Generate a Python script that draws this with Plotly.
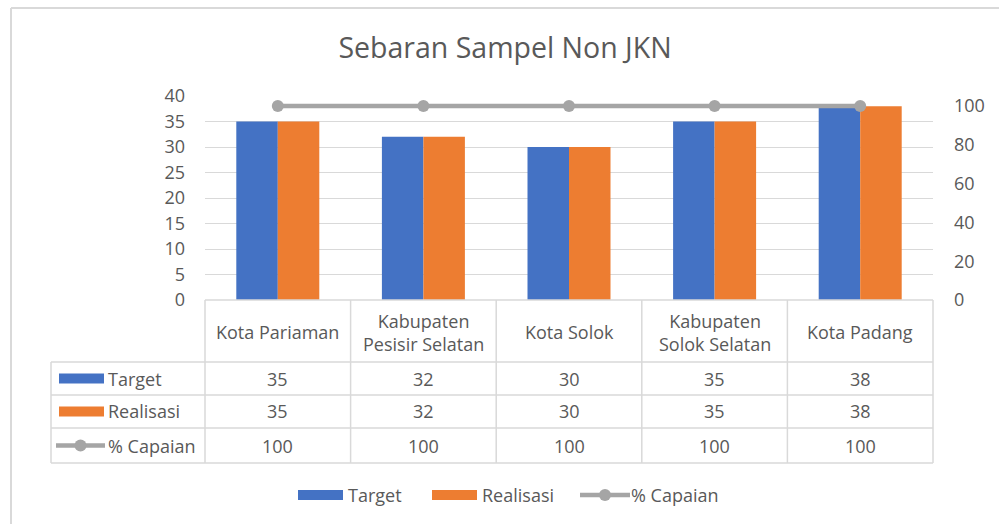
import plotly.graph_objects as go

categories = ["Kota Pariaman", "Kabupaten<br>Pesisir Selatan", "Kota Solok", "Kabupaten<br>Solok Selatan", "Kota Padang"]
target = [35, 32, 30, 35, 38]
realisasi = [35, 32, 30, 35, 38]
capaian = [100, 100, 100, 100, 100]
series_names = ["Target", "Realisasi", "% Capaian"]
colors = ["#4472C4", "#ED7D31", "#A5A5A5"]
left_ticks = [0, 5, 10, 15, 20, 25, 30, 35, 40]
right_ticks = [0, 20, 40, 60, 80, 100]

W, H = 999, 524
L, R, T, B = 205, 933, 96, 300
FONT = "Open Sans"
FS = 18
TXT = "#595959"
GRID = "#d9d9d9"

def px(x):
    return (x - L) / (R - L)

def py(y):
    return (B - y) / (B - T)

n = len(categories)
idx = list(range(n))

fig = go.Figure()
fig.add_trace(go.Bar(x=idx, y=target, name=series_names[0], marker_color=colors[0], marker_line_width=0))
fig.add_trace(go.Bar(x=idx, y=realisasi, name=series_names[1], marker_color=colors[1], marker_line_width=0))
fig.add_trace(go.Scatter(x=idx, y=capaian, name=series_names[2], yaxis="y2", mode="lines+markers",
                         line=dict(color=colors[2], width=4.5), marker=dict(size=12, color=colors[2])))

shapes = []
annotations = []
lc = dict(color=GRID, width=1.5)

def txt(x, y, text, xanchor="center"):
    annotations.append(dict(x=x, y=y, xref="paper", yref="paper", text=text, showarrow=False,
                            xanchor=xanchor, yanchor="middle", align="center",
                            font=dict(family=FONT, size=FS, color=TXT)))

# table rows (pixel y boundaries)
row_bounds = [300, 362, 395, 428, 463]
tbl_left = 51
shapes.append(dict(type="line", xref="paper", yref="paper", x0=0, x1=1, y0=py(300), y1=py(300), line=lc))
for yb in row_bounds[1:]:
    shapes.append(dict(type="line", xref="paper", yref="paper", x0=px(tbl_left), x1=1, y0=py(yb), y1=py(yb), line=lc))
for i in range(n + 1):
    shapes.append(dict(type="line", xref="paper", yref="paper", x0=i / n, x1=i / n, y0=py(300), y1=py(463), line=lc))
shapes.append(dict(type="line", xref="paper", yref="paper", x0=px(tbl_left), x1=px(tbl_left), y0=py(362), y1=py(463), line=lc))

for i, c in enumerate(categories):
    txt((i + 0.5) / n, py(332), c)

rows = [target, realisasi, capaian]
row_centers = [378.5, 411.5, 445.5]
for r, (vals, yc) in enumerate(zip(rows, row_centers)):
    for i, v in enumerate(vals):
        txt((i + 0.5) / n, py(yc), str(v))
    if r < 2:
        shapes.append(dict(type="rect", xref="paper", yref="paper", x0=px(59), x1=px(104), y0=py(yc - 5), y1=py(yc + 5),
                           fillcolor=colors[r], line=dict(width=0)))
    else:
        shapes.append(dict(type="line", xref="paper", yref="paper", x0=px(56), x1=px(105), y0=py(yc), y1=py(yc),
                           line=dict(color=colors[2], width=4.5)))
        shapes.append(dict(type="circle", xref="paper", yref="paper", x0=px(74.5), x1=px(86.5), y0=py(yc - 6), y1=py(yc + 6),
                           fillcolor=colors[2], line=dict(width=0)))
    txt(px(106), py(yc), series_names[r], xanchor="left")

# bottom legend
leg_y = 495
leg_x = [298, 432, 580]
for k in range(3):
    x0 = leg_x[k]
    if k < 2:
        shapes.append(dict(type="rect", xref="paper", yref="paper", x0=px(x0), x1=px(x0 + 45), y0=py(leg_y - 5), y1=py(leg_y + 5),
                           fillcolor=colors[k], line=dict(width=0)))
        tx = x0 + 48
    else:
        shapes.append(dict(type="line", xref="paper", yref="paper", x0=px(x0), x1=px(x0 + 50), y0=py(leg_y), y1=py(leg_y),
                           line=dict(color=colors[2], width=4.5)))
        shapes.append(dict(type="circle", xref="paper", yref="paper", x0=px(x0 + 19), x1=px(x0 + 31), y0=py(leg_y - 6), y1=py(leg_y + 6),
                           fillcolor=colors[2], line=dict(width=0)))
        tx = x0 + 49
    txt(px(tx), py(leg_y), series_names[k], xanchor="left")

# outer chart border (top and left)
shapes.append(dict(type="line", xref="paper", yref="paper", x0=px(11), x1=px(999), y0=py(8), y1=py(8), line=dict(color=GRID, width=2)))
shapes.append(dict(type="line", xref="paper", yref="paper", x0=px(11), x1=px(11), y0=py(8), y1=py(524), line=dict(color=GRID, width=2)))

fig.update_layout(
    width=W, height=H,
    margin=dict(l=L, r=W - R, t=T, b=H - B, pad=0),
    paper_bgcolor="white", plot_bgcolor="white",
    title=dict(text="Sebaran Sampel Non JKN", x=505 / W, xanchor="center", y=1 - 48 / H, yanchor="middle",
               font=dict(family=FONT, size=28.5, color=TXT)),
    showlegend=False,
    barmode="group", bargap=0.43, bargroupgap=0,
    xaxis=dict(range=[-0.5, n - 0.5], showticklabels=False, showgrid=False, zeroline=False, showline=False, ticks=""),
    yaxis=dict(range=[0, 40], tickvals=left_ticks, showgrid=True, gridcolor=GRID, gridwidth=1, zeroline=False,
               showline=False, ticks="", tickfont=dict(family=FONT, size=FS, color=TXT), ticklabelstandoff=19),
    yaxis2=dict(range=[0, 105.15], tickvals=right_ticks, overlaying="y", side="right", showgrid=False, zeroline=False,
                showline=False, ticks="", tickfont=dict(family=FONT, size=FS, color=TXT), ticklabelstandoff=20),
    shapes=shapes, annotations=annotations,
)

fig.write_html("out.html", config={"displayModeBar": False},
               post_script="document.body.style.margin='0';document.body.style.overflow='hidden';")
